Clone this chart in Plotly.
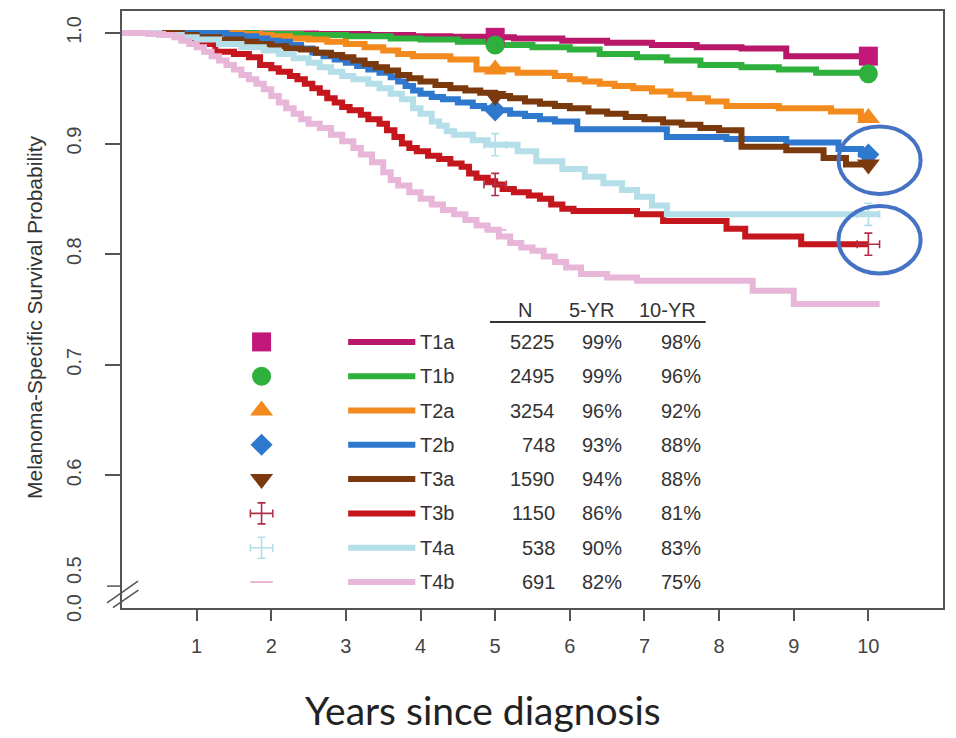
import numpy as np
import plotly.graph_objects as go

# ---------------- data ----------------
stages = ["T1a", "T1b", "T2a", "T2b", "T3a", "T3b", "T4a", "T4b"]
n_patients = [5225, 2495, 3254, 748, 1590, 1150, 538, 691]
surv_5yr_pct = ["99%", "99%", "96%", "93%", "94%", "86%", "90%", "82%"]
surv_10yr_pct = ["98%", "96%", "92%", "88%", "88%", "81%", "83%", "75%"]

t_T1a = [0, 1.5, 2.6, 3.3, 3.9, 4.4, 4.9, 5.25, 5.9, 6.5, 7.1, 7.7, 8.3, 8.9, 10.0]
s_T1a = [1.0, 0.9995, 0.999, 0.998, 0.997, 0.9965, 0.996, 0.995, 0.993, 0.991, 0.989, 0.987, 0.986, 0.979, 0.979]

t_T1b = [0, 1.8, 2.4, 3.0, 3.6, 4.0, 4.5, 5.0, 5.5, 6.0, 6.4, 6.9, 7.3, 7.75, 8.3, 8.8, 9.3, 10.0]
s_T1b = [1.0, 0.999, 0.998, 0.997, 0.995, 0.994, 0.992, 0.989, 0.987, 0.985, 0.981, 0.978, 0.975, 0.971, 0.969, 0.967, 0.964, 0.963]

t_T2a = [0, 1.6, 1.85, 2.0, 2.25, 2.5, 2.75, 3.0, 3.25, 3.5, 3.7, 3.9, 4.4, 4.75, 5.3, 5.8, 6.0, 6.2, 6.4, 6.6,
         6.85, 7.1, 7.35, 7.6, 7.85, 8.1, 8.8, 9.5, 9.9, 10.0]
s_T2a = [1.0, 0.999, 0.998, 0.997, 0.995, 0.994, 0.992, 0.990, 0.987, 0.984, 0.981, 0.979, 0.976, 0.967, 0.964,
         0.961, 0.958, 0.956, 0.954, 0.952, 0.950, 0.947, 0.944, 0.941, 0.938, 0.934, 0.932, 0.929, 0.923, 0.923]

t_T2b = [0, 1.4, 1.6, 1.8, 1.95, 2.1, 2.25, 2.4, 2.55, 2.7, 2.85, 3.0, 3.15, 3.3, 3.45, 3.6, 3.7, 3.8, 3.9, 4.0,
         4.15, 4.3, 4.5, 4.7, 4.85, 5.0, 5.2, 5.4, 5.6, 5.8, 6.1, 7.3, 8.1, 8.9, 9.6, 9.9, 10.0]
s_T2b = [1.0, 0.998, 0.997, 0.995, 0.993, 0.992, 0.989, 0.986, 0.982, 0.979, 0.976, 0.973, 0.970, 0.967, 0.964,
         0.960, 0.956, 0.952, 0.948, 0.945, 0.942, 0.940, 0.937, 0.934, 0.932, 0.930, 0.927, 0.925, 0.922, 0.920,
         0.913, 0.906, 0.904, 0.901, 0.895, 0.890, 0.890]

t_T3a = [0, 0.8, 1.0, 1.3, 1.6, 1.8, 2.0, 2.2, 2.4, 2.6, 2.8, 2.95, 3.1, 3.25, 3.4, 3.55, 3.7, 3.85, 4.0, 4.2,
         4.4, 4.6, 4.8, 5.0, 5.2, 5.4, 5.6, 5.8, 6.0, 6.25, 6.5, 6.75, 7.0, 7.25, 7.5, 7.75, 8.0, 8.3, 8.9, 9.4,
         9.7, 10.0]
s_T3a = [1.0, 0.998, 0.996, 0.994, 0.992, 0.990, 0.988, 0.986, 0.985, 0.982, 0.980, 0.978, 0.975, 0.972, 0.969,
         0.966, 0.962, 0.959, 0.956, 0.953, 0.950, 0.948, 0.946, 0.943, 0.941, 0.938, 0.936, 0.934, 0.932, 0.929,
         0.927, 0.924, 0.922, 0.919, 0.917, 0.914, 0.912, 0.897, 0.894, 0.887, 0.881, 0.881]

t_T3b = [0, 0.5, 0.8, 1.0, 1.25, 1.5, 1.7, 1.85, 2.0, 2.1, 2.25, 2.35, 2.45, 2.55, 2.65, 2.75, 2.85, 2.95, 3.05,
         3.2, 3.3, 3.45, 3.55, 3.65, 3.75, 3.85, 3.95, 4.1, 4.25, 4.4, 4.55, 4.65, 4.75, 4.9, 5.0, 5.1, 5.25, 5.45,
         5.6, 5.75, 5.9, 6.05, 6.9, 7.25, 8.1, 8.35, 9.1, 10.0]
s_T3b = [1.0, 0.998, 0.994, 0.990, 0.983, 0.981, 0.978, 0.971, 0.968, 0.965, 0.961, 0.958, 0.954, 0.950, 0.946,
         0.941, 0.937, 0.933, 0.930, 0.926, 0.922, 0.918, 0.912, 0.906, 0.900, 0.896, 0.893, 0.889, 0.886, 0.882,
         0.879, 0.873, 0.869, 0.866, 0.863, 0.859, 0.856, 0.853, 0.850, 0.845, 0.841, 0.839, 0.836, 0.830, 0.823,
         0.816, 0.809, 0.809]

t_T4a = [0, 0.5, 0.8, 1.0, 1.3, 1.6, 1.9, 2.1, 2.3, 2.5, 2.65, 2.8, 2.95, 3.1, 3.3, 3.45, 3.6, 3.75, 3.9, 4.0,
         4.15, 4.25, 4.35, 4.45, 4.7, 4.9, 5.3, 5.55, 5.9, 6.2, 6.45, 6.7, 6.9, 7.1, 7.3, 10.15]
s_T4a = [1.0, 0.998, 0.996, 0.994, 0.990, 0.987, 0.984, 0.981, 0.977, 0.973, 0.969, 0.965, 0.961, 0.958, 0.954,
         0.950, 0.945, 0.940, 0.932, 0.927, 0.920, 0.916, 0.911, 0.908, 0.903, 0.899, 0.893, 0.884, 0.877, 0.870,
         0.864, 0.858, 0.852, 0.844, 0.836, 0.836]

t_T4b = [0, 0.35, 0.55, 0.7, 0.8, 0.9, 1.0, 1.1, 1.2, 1.3, 1.4, 1.5, 1.6, 1.7, 1.8, 1.9, 2.0, 2.1, 2.2, 2.3, 2.4,
         2.5, 2.65, 2.8, 2.95, 3.1, 3.2, 3.35, 3.5, 3.6, 3.7, 3.85, 4.0, 4.15, 4.3, 4.45, 4.6, 4.75, 4.9, 5.05,
         5.2, 5.35, 5.5, 5.65, 5.8, 5.95, 6.15, 6.5, 6.9, 8.45, 9.0, 10.15]
s_T4b = [1.0, 0.999, 0.998, 0.996, 0.993, 0.990, 0.987, 0.983, 0.979, 0.975, 0.971, 0.967, 0.962, 0.958, 0.954,
         0.949, 0.943, 0.937, 0.932, 0.927, 0.922, 0.918, 0.914, 0.908, 0.902, 0.896, 0.890, 0.883, 0.874, 0.867,
         0.862, 0.856, 0.850, 0.845, 0.840, 0.836, 0.831, 0.826, 0.822, 0.816, 0.810, 0.806, 0.803, 0.798, 0.793,
         0.788, 0.782, 0.779, 0.776, 0.767, 0.755, 0.755]

x_tick_vals = [1, 2, 3, 4, 5, 6, 7, 8, 9, 10]
y_tick_vals = [0.6, 0.7, 0.8, 0.9, 1.0]
y_tick_text = ["0.6", "0.7", "0.8", "0.9", "1.0"]
marker_times = [5, 10]
highlighted = ["T3a", "T3b"]

# ---------------- styles ----------------
times = [t_T1a, t_T1b, t_T2a, t_T2b, t_T3a, t_T3b, t_T4a, t_T4b]
survs = [s_T1a, s_T1b, s_T2a, s_T2b, s_T3a, s_T3b, s_T4a, s_T4b]
colors = ["#B8176A", "#2DB03C", "#F38A1E", "#2E78CD", "#7A3A0E", "#C4161C", "#B4DEE8", "#E8B6D8"]
symbols = ["square", "circle", "triangle-up", "diamond", "triangle-down", "errcross", "errcross", "line-ew"]
marker_cols = ["#C2187A", "#2DB03C", "#F38A1E", "#2E78CD", "#7A3A0E", "#B03048", "#B4DEE8", "#E8B6D8"]

FONT = "Liberation Sans, Arial, sans-serif"
TXT = "#333333"
TICK = "#444444"


def surv_at(t_arr, s_arr, t):
    idx = np.searchsorted(np.asarray(t_arr), t, side="right") - 1
    return s_arr[max(idx, 0)]


fig = go.Figure()

for name, t, s, c in zip(stages, times, survs, colors):
    fig.add_trace(go.Scatter(x=t, y=s, mode="lines", line=dict(color=c, width=6, shape="hv"),
                             name=name, showlegend=False, hoverinfo="skip"))


def add_marker(x, y, sym, col, size=20, ex=0.15, ey=0.010):
    if sym == "errcross":
        fig.add_trace(go.Scatter(
            x=x, y=y, mode="markers", marker=dict(size=1, color=col), showlegend=False,
            error_x=dict(type="constant", value=ex, color=col, thickness=1.6, width=4),
            error_y=dict(type="constant", value=ey, color=col, thickness=1.6, width=4),
            hoverinfo="skip"))
    elif sym == "line-ew":
        fig.add_trace(go.Scatter(x=x, y=y, mode="markers",
                                 marker=dict(symbol="line-ew", size=16, line=dict(color=col, width=2)),
                                 showlegend=False, hoverinfo="skip"))
    else:
        fig.add_trace(go.Scatter(x=x, y=y, mode="markers",
                                 marker=dict(symbol=sym, size=size, color=col, line=dict(width=0)),
                                 showlegend=False, hoverinfo="skip"))


def sym_size(sym):
    if sym in ("square", "circle"):
        return 19
    if sym == "diamond":
        return 17
    return 20


for name, t, s, sym, mc in zip(stages, times, survs, symbols, marker_cols):
    ys = [surv_at(t, s, mt) for mt in marker_times]
    add_marker(marker_times, ys, sym, mc, size=sym_size(sym))

# ---------------- in-plot legend / table ----------------
row_y0, row_dy = 0.7207, 0.0310
leg_marker_x = 1.87
leg_line_x = [3.03, 3.93]
leg_label_x = 3.96
col_right_x = [5.83, 6.72, 7.79]
head_x = [5.40, 6.30, 7.31]
head_y = 0.7495
TFS = 20

annotations = []
for i, (name, mc, c, sym) in enumerate(zip(stages, marker_cols, colors, symbols)):
    ry = row_y0 - i * row_dy
    fig.add_trace(go.Scatter(x=leg_line_x, y=[ry, ry], mode="lines", line=dict(color=c, width=6),
                             showlegend=False, hoverinfo="skip"))
    add_marker([leg_marker_x], [ry], sym, mc, size=sym_size(sym), ex=0.15, ey=0.0095)
    annotations.append(dict(x=leg_label_x, y=ry, xref="x", yref="y", text=name, showarrow=False,
                            xanchor="left", yanchor="middle", font=dict(family=FONT, size=TFS, color=TXT)))
    for cx, val in zip(col_right_x, [str(n_patients[i]), surv_5yr_pct[i], surv_10yr_pct[i]]):
        annotations.append(dict(x=cx, y=ry, xref="x", yref="y", text=val, showarrow=False,
                                xanchor="right", yanchor="middle",
                                font=dict(family=FONT, size=TFS, color=TXT)))

for hx, htxt in zip(head_x, ["N", "5-YR", "10-YR"]):
    annotations.append(dict(x=hx, y=head_y, xref="x", yref="y", text=htxt, showarrow=False,
                            xanchor="center", yanchor="middle", font=dict(family=FONT, size=TFS, color=TXT)))

shapes = [dict(type="line", xref="x", yref="y", x0=4.93, x1=7.82, y0=0.7387, y1=0.7387,
               line=dict(color="#333333", width=2))]

for name in highlighted:
    i = stages.index(name)
    v = surv_at(times[i], survs[i], 10)
    shapes.append(dict(type="circle", xref="x", yref="y", x0=10.15 - 0.55, x1=10.15 + 0.55,
                       y0=v + 0.004 - 0.0305, y1=v + 0.004 + 0.0305,
                       line=dict(color="#4472C4", width=4)))

# axis break marks
shapes += [
    dict(type="line", xref="paper", yref="paper", x0=-0.0183, y0=0.0085, x1=0.0195, y1=0.0451,
         line=dict(color="#555555", width=1.5)),
    dict(type="line", xref="paper", yref="paper", x0=-0.0110, y0=0.0005, x1=0.0200, y1=0.0300,
         line=dict(color="#555555", width=1.5)),
    dict(type="line", xref="paper", yref="y", x0=-0.0183, x1=0, y0=0.5, y1=0.5,
         line=dict(color="#555555", width=1.5)),
]

annotations += [
    dict(x=-0.0585, y=0.0634, xref="paper", yref="paper", text="0.5", textangle=-90, showarrow=False,
         xanchor="center", yanchor="middle", font=dict(family=FONT, size=20, color=TICK)),
    dict(x=-0.0585, y=0.0, xref="paper", yref="paper", text="0.0", textangle=-90, showarrow=False,
         xanchor="center", yanchor="middle", font=dict(family=FONT, size=20, color=TICK)),
    dict(x=-0.106, y=0.4875, xref="paper", yref="paper", text="Melanoma-Specific Survival Probability",
         textangle=-90, showarrow=False, xanchor="center", yanchor="middle",
         font=dict(family=FONT, size=21, color="#333333")),
    dict(x=0.44, y=-0.171, xref="paper", yref="paper", text="Years since diagnosis", showarrow=False,
         xanchor="center", yanchor="middle",
         font=dict(family="Lato, Open Sans, sans-serif", size=39, color="#222222")),
]

fig.update_layout(
    width=956, height=738,
    margin=dict(l=122, r=13, t=9, b=130),
    paper_bgcolor="white", plot_bgcolor="white",
    showlegend=False,
    annotations=annotations, shapes=shapes,
    xaxis=dict(range=[0, 11.0], tickvals=x_tick_vals, ticks="outside", ticklen=11, tickwidth=1.5,
               tickcolor="#555555", showgrid=False, zeroline=False, showline=True, mirror=True,
               linecolor="#555555", linewidth=2,
               tickfont=dict(family=FONT, size=20, color=TICK), ticklabelstandoff=8),
    yaxis=dict(range=[0.4802, 1.0198], tickvals=y_tick_vals, ticktext=y_tick_text, ticks="outside",
               ticklen=15, tickwidth=1.5, tickcolor="#555555", tickangle=-90, showgrid=False,
               zeroline=False, showline=True, mirror=True, linecolor="#555555", linewidth=2,
               tickfont=dict(family=FONT, size=20, color=TICK), ticklabelstandoff=16),
)

fig.write_html("out.html")
